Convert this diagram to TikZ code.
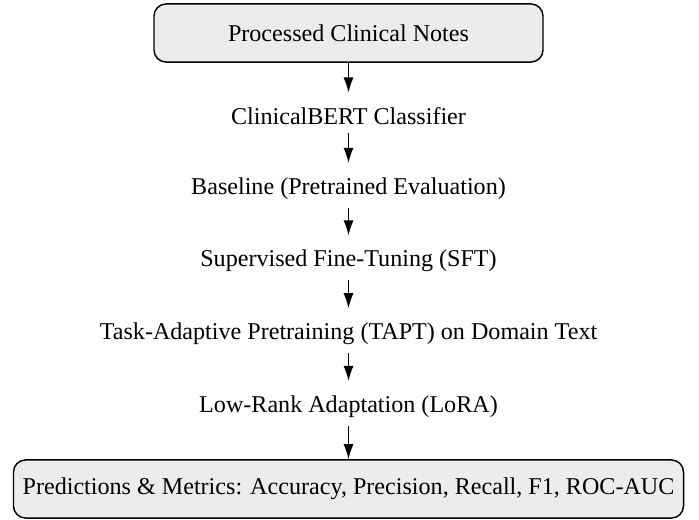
\documentclass[tikz,border=0pt]{standalone}
\usepackage{fontspec}
\setmainfont{Liberation Serif}
\usetikzlibrary{arrows.meta}
\begin{document}
\begin{tikzpicture}[x=0.4149pt,y=-0.4149pt,
  endbox/.style={draw=black, line width=0.6pt, fill=gray!15, rounded corners=5pt,
    minimum height=24.1pt, inner xsep=3pt, align=center},
  stage/.style={inner sep=3.33pt},
  flow/.style={-{Latex[length=6.3pt,width=4.2pt]}, line width=0.55pt, shorten >=2.5pt}]
\useasboundingbox (0,0) rectangle (699,519);
\node[endbox, minimum width=161.4pt] (src) at (348.5,33) {Processed Clinical Notes};
\node[stage] (clf) at (348.5,115.7) {ClinicalBERT Classifier};
\node[stage] (base) at (348.5,188.4) {Baseline (Pretrained Evaluation)};
\node[stage] (sft) at (348.5,261) {Supervised Fine-Tuning (SFT)};
\node[stage] (tapt) at (348.5,333.8) {Task-Adaptive Pretraining (TAPT) on Domain Text};
\node[stage] (lora) at (348.5,406.5) {Low-Rank Adaptation (LoRA)};
\node[endbox, minimum width=278pt] (out) at (348.5,489) {Predictions \& Metrics: Accuracy, Precision, Recall, F1, ROC-AUC};
\draw[flow] (src) -- (clf);
\draw[flow] (clf) -- (base);
\draw[flow] (base) -- (sft);
\draw[flow] (sft) -- (tapt);
\draw[flow] (tapt) -- (lora);
\draw[flow, shorten >=0pt] (lora) -- (out);
\end{tikzpicture}
\end{document}
